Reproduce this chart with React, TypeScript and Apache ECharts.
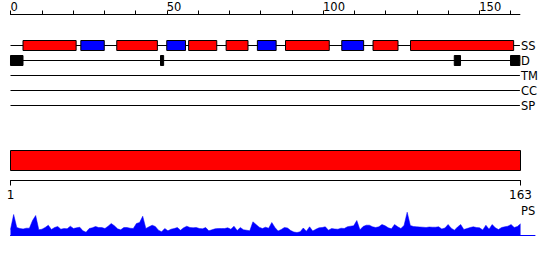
import React, { useEffect, useRef } from "react";
import * as echarts from "echarts";

const tracks = ["SS", "D", "TM", "CC", "SP"];
const topTicks = [0, 10, 20, 30, 40, 50, 60, 70, 80, 90, 100, 110, 120, 130, 140, 150, 160];
const topLabels = [0, 50, 100, 150];
const seqStart = 1;
const seqEnd = 163;
// [start, end, kind] kind 0 = helix (red), 1 = strand (blue)
const ssRanges: number[][] = [
  [4, 21, 0], [22.5, 30, 1], [34, 47, 0], [50, 56, 1], [57, 66, 0], [69, 76, 0],
  [79, 85, 1], [88, 102, 0], [106, 113, 1], [116, 124, 0], [128, 161, 0],
];
const disorderRanges: number[][] = [[0, 4], [48, 49], [142, 144], [160, 163]];
const psValues = [
  6, 21, 8, 7, 6.5, 7.3, 7.3, 15, 20, 5.7, 6.3, 8, 10.3, 6, 8, 9, 6.3, 7, 6.7, 9.3,
  7, 7.7, 8.3, 4.7, 3.3, 7, 7.7, 9, 8, 8, 7, 9.3, 12, 9.7, 6.7, 5.7, 8, 8, 7.3, 7,
  12, 13, 19.3, 7, 8.7, 10.3, 9, 5.3, 3.7, 7, 4.7, 6.3, 7, 8, 5.3, 7.7, 9.3, 8, 7.7, 8,
  7, 6.7, 8, 4.7, 5.7, 6.7, 7, 7, 7, 7.7, 6.3, 9.3, 5, 8, 5.7, 5.3, 4.7, 13.7, 11, 8.3,
  7, 8.3, 7.3, 13, 8, 4.5, 6, 8, 7.5, 5, 3.5, 3, 3.7, 7.5, 4.3, 8.7, 4.5, 6.3, 7.7, 8,
  8.7, 5.3, 7, 6.5, 6.3, 7.3, 7, 8.7, 9.3, 9.7, 15, 5.7, 9, 10.3, 10.3, 8.7, 8, 8.7, 11, 9.7,
  7.7, 6.7, 11, 8.7, 7, 10, 23.3, 10, 9, 8.7, 8.5, 8.3, 8, 8.5, 8.3, 8.3, 8.7, 6.5, 7.5, 11,
  7.3, 5.3, 8.5, 11, 6, 7, 8, 8.7, 8, 7.7, 5.5, 10.3, 6.3, 11, 7.7, 6, 8, 8.7, 9.3, 11,
  8, 9, 11.7,
];

const FONT = "DejaVu Sans";
const kindColors = ["#ff0000", "#0000ff", "#000000"];

export default function App() {
  const ref = useRef<HTMLDivElement>(null);
  useEffect(() => {
    if (!ref.current) return;
    const chart = echarts.init(ref.current, undefined, { renderer: "svg" });

    const lineData = tracks.map((_, i) => [i, 0, seqEnd]);
    const boxData: number[][] = [
      ...ssRanges.map((r) => [0, r[0], r[1], r[2]]),
      ...disorderRanges.map((r) => [1, r[0], r[1], 2]),
    ];

    const option: any = {
      animation: false,
      grid: [
        { left: 10.5, width: 509.4, top: 38, height: 75, containLabel: false, outerBoundsMode: "none" },
        { left: 10.5, width: 510, top: 150.5, height: 30, containLabel: false, outerBoundsMode: "none" },
        { left: 10.5, width: 524.5, top: 210.5, height: 25, containLabel: false, outerBoundsMode: "none" },
      ],
      xAxis: [
        {
          gridIndex: 0, type: "value", min: 0, max: seqEnd, position: "top", offset: 23.5,
          axisLine: { show: true, lineStyle: { color: "#000", width: 1 } },
          axisTick: { show: true, length: 4, customValues: topTicks, lineStyle: { color: "#000" } },
          axisLabel: {
            show: true, customValues: topLabels, align: "left", margin: 2,
            fontFamily: FONT, fontSize: 11.5, color: "#000",
          },
          splitLine: { show: false },
        },
        {
          gridIndex: 1, type: "value", min: seqStart, max: seqEnd, position: "bottom",
          axisLine: { show: true, onZero: false, lineStyle: { color: "#000", width: 1 } },
          axisTick: { show: true, length: 5, customValues: [seqStart, seqEnd], lineStyle: { color: "#000" } },
          axisLabel: {
            show: true, customValues: [seqStart, seqEnd], margin: 8,
            fontFamily: FONT, fontSize: 12, color: "#000",
          },
          splitLine: { show: false },
        },
        {
          gridIndex: 2, type: "value", min: 1, max: 167.6,
          axisLine: { show: true, onZero: false, lineStyle: { color: "#0000ff", width: 1 } },
          axisTick: { show: false },
          axisLabel: { show: false },
          splitLine: { show: false },
        },
      ],
      yAxis: [
        {
          gridIndex: 0, type: "category", data: tracks, inverse: true, position: "right",
          axisLine: { show: false }, axisTick: { show: false }, splitLine: { show: false },
          axisLabel: { interval: 0, margin: 1, fontFamily: FONT, fontSize: 11.5, color: "#000" },
        },
        { gridIndex: 1, type: "value", min: 0, max: 30, show: false },
        { gridIndex: 2, type: "value", min: 0, max: 25, show: false },
      ],
      series: [
        {
          type: "custom", xAxisIndex: 0, yAxisIndex: 0, data: lineData, silent: true,
          renderItem: (_p: any, api: any) => {
            const a = api.coord([api.value(1), api.value(0)]);
            const b = api.coord([api.value(2), api.value(0)]);
            return {
              type: "line",
              shape: { x1: a[0], y1: a[1], x2: b[0], y2: b[1] },
              style: { stroke: "#000", lineWidth: 1 },
            };
          },
        },
        {
          type: "custom", xAxisIndex: 0, yAxisIndex: 0, data: boxData, silent: true,
          renderItem: (_p: any, api: any) => {
            const a = api.coord([api.value(1), api.value(0)]);
            const b = api.coord([api.value(2), api.value(0)]);
            const color = kindColors[api.value(3)];
            return {
              type: "rect",
              shape: { x: a[0], y: a[1] - 5, width: b[0] - a[0], height: 10 },
              style: { fill: color, stroke: "#000", lineWidth: 1 },
            };
          },
        },
        {
          type: "custom", xAxisIndex: 1, yAxisIndex: 1, data: [[seqStart, seqEnd, 10, 30]], silent: true,
          renderItem: (_p: any, api: any) => {
            const a = api.coord([api.value(0), api.value(3)]);
            const b = api.coord([api.value(1), api.value(2)]);
            return {
              type: "rect",
              shape: { x: a[0], y: a[1], width: b[0] - a[0], height: b[1] - a[1] },
              style: { fill: "#ff0000", stroke: "#000", lineWidth: 1 },
            };
          },
        },
        {
          type: "line", xAxisIndex: 2, yAxisIndex: 2, silent: true,
          data: psValues.map((v, i) => [i + 1, v]),
          showSymbol: false, symbol: "none",
          lineStyle: { width: 0.5, color: "#0000ff" },
          areaStyle: { color: "#0000ff", opacity: 1 },
          itemStyle: { color: "#0000ff" },
        },
      ],
      graphic: [
        {
          type: "text", x: 521, y: 211,
          style: { text: "PS", fontFamily: FONT, fontSize: 11.5, fill: "#000", verticalAlign: "middle" },
        },
      ],
    };
    chart.setOption(option);
    return () => chart.dispose();
  }, []);

  return (
    <div
      ref={ref}
      style={{ position: "fixed", left: 0, top: 0, width: 550, height: 260, background: "#fff" }}
    />
  );
}
